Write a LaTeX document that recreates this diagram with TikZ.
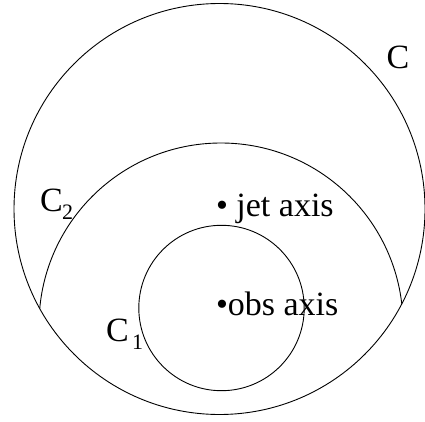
\documentclass[tikz,border=0pt]{standalone}
\usepackage{fontspec}
\setmainfont{Liberation Serif}
\begin{document}
\begin{tikzpicture}[x=1pt,y=1pt,
  curve/.style={line width=0.9pt,black},
  lbl/.style={anchor=base west,inner sep=0pt,outer sep=0pt,font=\fontsize{34}{36}\selectfont},
  sub/.style={anchor=base west,inner sep=0pt,outer sep=0pt,font=\fontsize{22}{24}\selectfont}]
\useasboundingbox (0,0) rectangle (425,421);
\coordinate (cc) at (219.5,212);
\coordinate (c2c) at (221,96);
\coordinate (c1c) at (221.5,113);
\draw[curve] (cc) circle (205.5);
\begin{scope}
  \clip (cc) circle (205.5);
  \draw[curve] (c2c) circle (182);
\end{scope}
\draw[curve] (c1c) circle (82.7);
\node[lbl] (lc) at (386.5,352.7) {C};
\node[lbl] (lc2) at (40,209.5) {C};
\node[sub] (lc2s) at (62,201.7) {2};
\node[lbl] (lc1) at (106,79.5) {C};
\node[sub] (lc1s) at (132,71.7) {1};
\node[lbl] (jet) at (216,205) {• jet axis};
\node[lbl] (obs) at (216,105.3) {•obs axis};
\end{tikzpicture}
\end{document}
